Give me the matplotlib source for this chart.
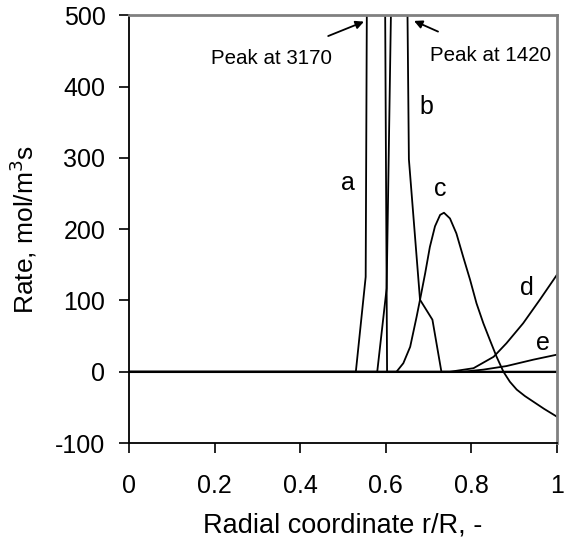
import matplotlib
matplotlib.use("Agg")
import matplotlib.pyplot as plt

plt.rcParams['font.family'] = ['Liberation Sans', 'DejaVu Sans']
plt.rcParams['axes.unicode_minus'] = False

# Reaction-rate profiles along the radial coordinate
a_x = [0.0, 0.53, 0.553, 0.575, 0.603, 1.0]
a_y = [0, 0, 133, 3170, 0, 0]

b_x = [0.0, 0.58, 0.602, 0.636, 0.654, 0.680, 0.709, 0.730, 1.0]
b_y = [0, 0, 117, 1420, 298, 101, 73, 0, 0]

c_x = [0.0, 0.625, 0.641, 0.657, 0.672, 0.680, 0.692, 0.703, 0.715, 0.727,
       0.736, 0.75, 0.765, 0.781, 0.797, 0.812, 0.828, 0.843, 0.859, 0.875,
       0.89, 0.906, 0.925, 0.945, 0.97, 1.0]
c_y = [0, 0, 12, 35, 77, 101, 138, 175, 204, 220,
       223, 215, 194, 161, 129, 96, 68, 45, 21, 0,
       -14, -25, -34, -42, -52, -63]

d_x = [0.0, 0.75, 0.805, 0.852, 0.882, 0.921, 0.96, 1.0]
d_y = [0, 0, 5, 21, 40, 68, 101, 136]

e_x = [0.0, 0.78, 0.828, 0.882, 0.945, 1.0]
e_y = [0, 0, 3, 8, 17, 24]

x_ticks = [0, 0.2, 0.4, 0.6, 0.8, 1]
x_tick_labels = ["0", "0.2", "0.4", "0.6", "0.8", "1"]
y_ticks = [-100, 0, 100, 200, 300, 400, 500]

fig = plt.figure(figsize=(5.66, 5.43), dpi=100)
ax = fig.add_axes([0.228, 0.184, 0.756, 0.788])

for xs, ys in [(a_x, a_y), (b_x, b_y), (c_x, c_y), (d_x, d_y), (e_x, e_y)]:
    ax.plot(xs, ys, color='black', lw=1.3, solid_joinstyle='round')
ax.axhline(0, color='black', lw=1.5)

ax.set_xlim(0, 1)
ax.set_ylim(-100, 500)
ax.set_xticks(x_ticks)
ax.set_xticklabels(x_tick_labels)
ax.set_yticks(y_ticks)
ax.tick_params(axis='both', direction='out', length=7, width=1.2,
               labelsize=18, colors='black')
ax.tick_params(axis='x', pad=15)
ax.tick_params(axis='y', pad=10)

for side in ['left', 'bottom']:
    ax.spines[side].set_color('black')
    ax.spines[side].set_linewidth(1.3)
for side in ['top', 'right']:
    ax.spines[side].set_color('#808080')
    ax.spines[side].set_linewidth(2)

ax.set_xlabel("Radial coordinate r/R, -", fontsize=19.5, labelpad=11)
ax.set_ylabel("Rate, mol/m$^3$s", fontsize=19, labelpad=12)

# Curve labels
for txt, (lx, ly) in {'a': (0.512, 265), 'b': (0.694, 371), 'c': (0.727, 256),
                      'd': (0.929, 117), 'e': (0.968, 40)}.items():
    ax.text(lx, ly, txt, fontsize=18, ha='center', va='center')

# Off-scale peak annotations
ax.annotate("Peak at 3170", xy=(0.549, 491), xytext=(0.334, 439),
            fontsize=14.8, ha='center', va='center',
            arrowprops=dict(arrowstyle='-|>', color='black', lw=1.3,
                            shrinkA=20, shrinkB=0, mutation_scale=12))
ax.annotate("Peak at 1420", xy=(0.666, 492), xytext=(0.846, 444),
            fontsize=14.8, ha='center', va='center',
            arrowprops=dict(arrowstyle='-|>', color='black', lw=1.3,
                            shrinkA=20, shrinkB=0, mutation_scale=12))

fig.savefig("out.png", dpi=100)
